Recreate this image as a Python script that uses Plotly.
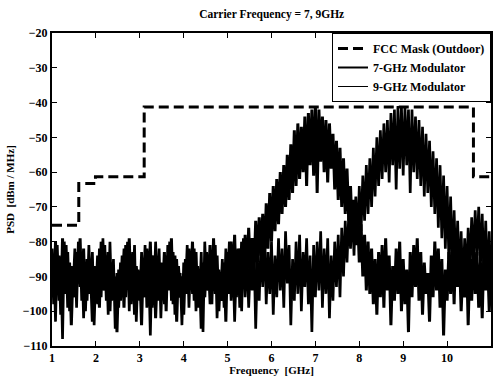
import numpy as np
import plotly.graph_objects as go

# Frequency grid (GHz)
f_start, f_step, n_pts = 1.0, 0.04, 251
freq = np.round(f_start + f_step * np.arange(n_pts), 4)

# FCC outdoor mask
mask_freq = [1.0, 1.61, 1.99, 3.1, 10.6, 11.0]
mask_psd = [-75.3, -63.3, -61.3, -41.3, -61.3, -61.3]

# 7-GHz modulator PSD (dBm/MHz)
psd_7ghz = [
    -82, -98, -80, -95, -84, -101, -79, -94, -81, -99,
    -86, -104, -88, -96, -83, -92, -79, -97, -82, -100,
    -85, -95, -89, -103, -87, -96, -84, -99, -80, -94,
    -81, -97, -83, -100, -86, -94, -90, -106, -88, -97,
    -84, -99, -81, -93, -79, -98, -83, -101, -87, -95,
    -89, -104, -85, -96, -82, -93, -80, -99, -84, -102,
    -88, -97, -86, -95, -83, -100, -81, -94, -79, -98,
    -84, -103, -87, -96, -90, -101, -85, -95, -82, -93,
    -80, -97, -83, -99, -88, -105, -86, -96, -83, -94,
    -81, -98, -79, -95, -84, -100, -89, -97, -86, -103,
    -83, -95, -80, -92, -78, -96, -82, -99, -80, -93,
    -78, -91, -76, -88, -79, -90, -74, -86, -73, -84,
    -72, -86, -69, -82, -66, -80, -64, -77, -62, -75,
    -60, -72, -58, -70, -55, -68, -52, -66, -48, -64,
    -46, -62, -47, -60, -44, -64, -43, -58, -42, -61,
    -41, -66, -42, -57, -44, -60, -45, -63, -46, -59,
    -49, -65, -51, -68, -53, -70, -56, -72, -59, -74,
    -64, -78, -68, -81, -72, -86, -75, -90, -78, -94,
    -80, -95, -82, -98, -85, -101, -83, -96, -81, -99,
    -79, -94, -84, -104, -87, -97, -82, -95, -80, -100,
    -85, -98, -88, -106, -83, -96, -81, -93, -79, -97,
    -83, -101, -86, -95, -89, -103, -84, -96, -80, -94,
    -82, -99, -85, -107, -88, -97, -83, -95, -81, -98,
    -79, -93, -84, -100, -87, -96, -82, -104, -85, -97,
    -80, -95, -83, -99, -86, -102, -81, -94, -84, -100,
    -88,
]

# 9-GHz modulator PSD (dBm/MHz)
psd_9ghz = [
    -96, -84, -103, -81, -97, -85, -108, -80, -95, -83,
    -100, -87, -94, -82, -99, -80, -93, -84, -102, -86,
    -97, -81, -95, -83, -104, -88, -98, -82, -96, -79,
    -94, -84, -101, -80, -97, -85, -105, -89, -99, -86,
    -93, -82, -96, -80, -100, -85, -95, -81, -103, -88,
    -97, -83, -94, -81, -99, -86, -107, -84, -96, -80,
    -95, -82, -102, -87, -98, -84, -93, -80, -97, -83,
    -101, -85, -96, -89, -104, -86, -94, -81, -99, -84,
    -95, -82, -100, -87, -97, -83, -106, -80, -94, -86,
    -98, -84, -93, -81, -102, -88, -96, -85, -99, -82,
    -94, -80, -97, -84, -103, -87, -95, -82, -100, -79,
    -96, -83, -99, -86, -94, -81, -105, -85, -97, -80,
    -93, -78, -98, -83, -95, -80, -101, -84, -96, -79,
    -94, -82, -99, -77, -92, -81, -104, -85, -97, -80,
    -95, -78, -100, -83, -93, -79, -98, -84, -106, -81,
    -96, -80, -94, -77, -99, -82, -95, -79, -102, -84,
    -97, -80, -93, -78, -96, -76, -90, -74, -86, -72,
    -82, -70, -84, -67, -80, -64, -77, -61, -74, -58,
    -72, -56, -70, -53, -67, -50, -64, -48, -62, -46,
    -60, -45, -63, -43, -58, -42, -65, -41, -59, -41,
    -61, -41, -58, -42, -66, -42, -60, -44, -62, -45,
    -64, -47, -67, -49, -66, -51, -70, -54, -72, -56,
    -76, -58, -79, -61, -82, -64, -85, -67, -88, -71,
    -89, -74, -92, -77, -95, -79, -91, -76, -88, -73,
    -86, -71, -84, -70, -87, -72, -90, -74, -93, -77,
    -95,
]

x_ticks = [1, 2, 3, 4, 5, 6, 7, 8, 9, 10, 11]
y_ticks = [-110, -100, -90, -80, -70, -60, -50, -40, -30, -20]

FONT = "Liberation Serif"

fig = go.Figure()
fig.add_trace(go.Scatter(
    x=freq, y=psd_9ghz, mode="lines", showlegend=False, hoverinfo="skip",
    line=dict(color="black", width=2.7),
))
fig.add_trace(go.Scatter(
    x=freq, y=psd_7ghz, mode="lines", showlegend=False, hoverinfo="skip",
    line=dict(color="black", width=3.0),
))
fig.add_trace(go.Scatter(
    x=mask_freq, y=mask_psd, mode="lines", name="<b>FCC Mask (Outdoor)</b>",
    line=dict(color="black", width=3, dash="10px,5px", shape="hv"),
))
# legend entries for the two spectra
fig.add_trace(go.Scatter(
    x=[None], y=[None], mode="lines", name="<b>7-GHz Modulator</b>",
    line=dict(color="black", width=2),
))
fig.add_trace(go.Scatter(
    x=[None], y=[None], mode="lines", name="<b>9-GHz Modulator</b>",
    line=dict(color="black", width=1),
))

axis_common = dict(
    showgrid=False, zeroline=False, showline=True, linecolor="black",
    linewidth=2, mirror="ticks", ticks="inside", ticklen=5,
    tickcolor="black", automargin=False,
    tickfont=dict(family=FONT, size=12, color="black", weight="bold"),
)

fig.update_layout(
    width=494, height=376,
    margin=dict(l=52, r=3, t=33, b=30, autoexpand=False),
    paper_bgcolor="white", plot_bgcolor="white",
    font=dict(family=FONT, color="black"),
    title=dict(text="<b>Carrier Frequency = 7, 9GHz</b>", x=0.55, xanchor="center",
               yref="container", y=0.962, yanchor="middle", automargin=False,
               font=dict(family=FONT, size=11.5, color="black")),
    xaxis=dict(range=[1, 11], tickvals=x_ticks, **axis_common,
               title=dict(text="<b>Frequency  [GHz]</b>", standoff=0,
                          font=dict(family=FONT, size=11, color="black"))),
    yaxis=dict(range=[-110, -20], tickvals=y_ticks, **axis_common,
               title=dict(text="<b>PSD  [dBm / MHz]</b>", standoff=6,
                          font=dict(family=FONT, size=11, color="black"))),
    legend=dict(x=1, y=1, xanchor="right", yanchor="top", bgcolor="white",
                bordercolor="black", borderwidth=1, itemwidth=30,
                font=dict(family=FONT, size=12, color="black"),
                tracegroupgap=0),
    showlegend=True,
)

fig.write_html("out.html", config={"displayModeBar": False},
               post_script="document.body.style.margin='0';")
